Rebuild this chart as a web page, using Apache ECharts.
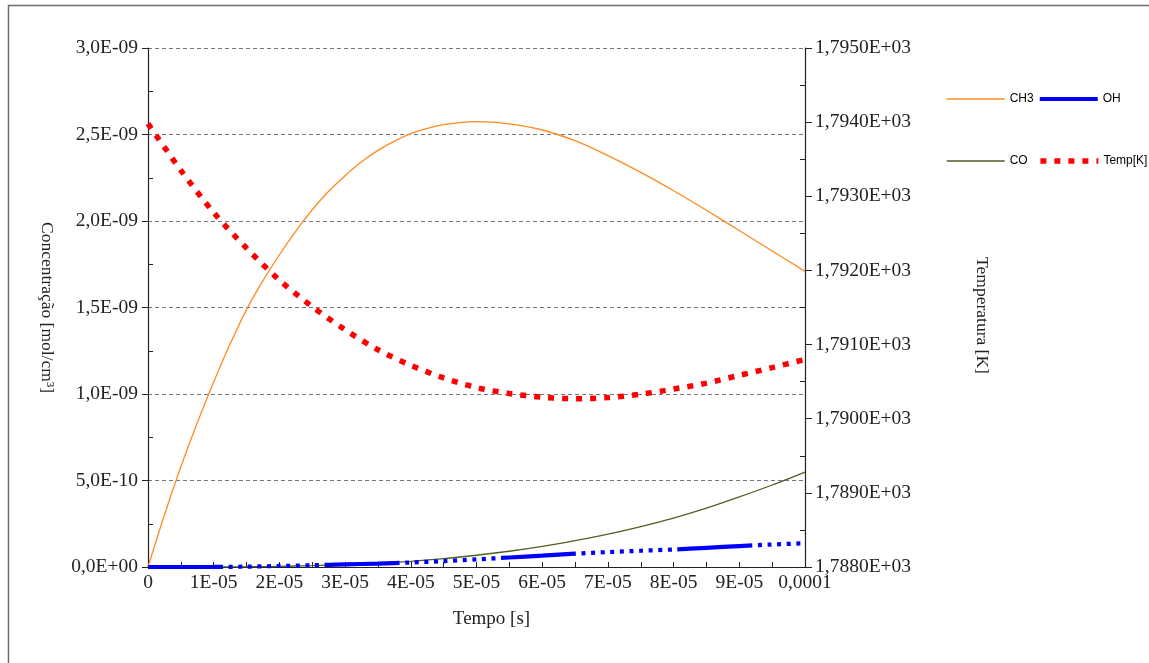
<!DOCTYPE html>
<html>
<head>
<meta charset="utf-8">
<script src="https://cdn.jsdelivr.net/npm/echarts@6/dist/echarts.min.js"></script>
<style>
html,body{margin:0;padding:0;background:#fff;}
#chart{width:1149px;height:663px;}
</style>
</head>
<body>
<div id="chart"></div>
<script>
// Tempo [s] for CH3 (finer sampling where it rises steeply)
const tempoCH3 = [0, 0.25e-5, 0.5e-5, 0.75e-5, 1e-5, 1.25e-5, 1.5e-5, 1.75e-5, 2e-5, 2.25e-5, 2.5e-5, 2.75e-5, 3e-5, 3.25e-5, 3.5e-5, 3.75e-5, 4e-5, 4.25e-5, 4.5e-5, 4.75e-5, 5e-5, 5.5e-5, 6e-5, 6.5e-5, 7e-5, 7.5e-5, 8e-5, 8.5e-5, 9e-5, 9.5e-5, 1e-4];
// Tempo [s] for the other series
const tempo = [0, 0.5e-5, 1e-5, 1.5e-5, 2e-5, 2.5e-5, 3e-5, 3.5e-5, 4e-5, 4.5e-5, 5e-5, 5.5e-5, 6e-5, 6.5e-5, 7e-5, 7.5e-5, 8e-5, 8.5e-5, 9e-5, 9.5e-5, 1e-4];
// Concentração [mol/cm3]
const ch3 = [0, 0.301e-9, 0.579e-9, 0.834e-9, 1.070e-9, 1.289e-9, 1.488e-9, 1.655e-9, 1.805e-9, 1.942e-9, 2.065e-9, 2.172e-9, 2.262e-9, 2.342e-9, 2.408e-9, 2.462e-9, 2.505e-9, 2.536e-9, 2.557e-9, 2.569e-9, 2.574e-9, 2.561e-9, 2.526e-9, 2.464e-9, 2.378e-9, 2.281e-9, 2.175e-9, 2.062e-9, 1.945e-9, 1.827e-9, 1.709e-9];
const co = [0, 0, 0.0005e-9, 0.0015e-9, 0.004e-9, 0.008e-9, 0.014e-9, 0.022e-9, 0.033e-9, 0.048e-9, 0.068e-9, 0.091e-9, 0.119e-9, 0.153e-9, 0.19e-9, 0.234e-9, 0.283e-9, 0.34e-9, 0.405e-9, 0.474e-9, 0.549e-9];
const oh = [0, 0, 0.0003e-9, 0.002e-9, 0.006e-9, 0.010e-9, 0.015e-9, 0.020e-9, 0.026e-9, 0.034e-9, 0.044e-9, 0.055e-9, 0.066e-9, 0.077e-9, 0.086e-9, 0.094e-9, 0.101e-9, 0.111e-9, 0.121e-9, 0.130e-9, 0.137e-9];
// Temperatura [K]
const temp = [1793.98, 1793.35, 1792.78, 1792.30, 1791.87, 1791.51, 1791.20, 1790.93, 1790.72, 1790.55, 1790.42, 1790.34, 1790.29, 1790.27, 1790.285, 1790.33, 1790.40, 1790.48, 1790.585, 1790.69, 1790.80];

const seriesNames = ['CH3', 'CO', 'OH', 'Temp[K]'];
const legendRow1 = ['CH3', 'OH'];
const legendRow2 = ['CO', 'Temp[K]'];

function pairs(ts, ys) { return ts.map((t, i) => [t, ys[i]]); }
function fmtE(v, digits) {
  const s = Number(v).toExponential(digits);
  const parts = s.split('e');
  const ex = parseInt(parts[1], 10);
  const sign = ex < 0 ? '-' : '+';
  return parts[0].replace('.', ',') + 'E' + sign + String(Math.abs(ex)).padStart(2, '0');
}
function fmtX(v) {
  if (Math.abs(v) < 1e-12) return '0';
  if (Math.abs(v - 1e-4) < 1e-12) return '0,0001';
  return Math.round(v / 1e-5) + 'E-05';
}

// long dash followed by a run of dots (OH line)
const ohDash = [75];
for (let i = 0; i < 10; i++) { ohDash.push(5.6, 4); }
ohDash.push(5.6);

const serif = 'Liberation Serif';
const legendCommon = {
  left: 941, width: 400, itemWidth: 58, itemHeight: 14,
  itemStyle: {color: 'rgba(0,0,0,0)', borderColor: 'rgba(0,0,0,0)', borderWidth: 0},
  lineStyle: {width: 'inherit'},
  textStyle: {fontFamily: 'Liberation Sans', fontSize: 12, color: '#000'}
};
const chart = echarts.init(document.getElementById('chart'), null, {renderer: 'canvas'});
chart.setOption({
  animation: false,
  backgroundColor: '#fff',
  graphic: [{
    type: 'rect', silent: true, z: -1,
    shape: {x: 8.5, y: 5.5, width: 1200, height: 700},
    style: {fill: 'none', stroke: '#6e6e6e', lineWidth: 1.5}
  }],
  grid: {left: 148, right: 344, top: 48, bottom: 96, containLabel: false},
  legend: [
    Object.assign({data: legendRow1, top: 88, itemGap: 4}, legendCommon),
    Object.assign({data: legendRow2, top: 150, itemGap: 10}, legendCommon)
  ],
  xAxis: {
    type: 'value', min: 0, max: 1e-4, interval: 1e-5,
    name: 'Tempo [s]', nameLocation: 'middle', nameGap: 43,
    nameTextStyle: {fontFamily: serif, fontSize: 19, color: '#222', padding: [0, 0, 0, 30]},
    axisLine: {show: true, onZero: false, lineStyle: {color: '#222', width: 1.2}},
    axisTick: {show: true, inside: true, length: 5, lineStyle: {color: '#222'}},
    minorTick: {show: true, splitNumber: 2, length: 5, lineStyle: {color: '#222'}},
    axisLabel: {formatter: fmtX, fontFamily: serif, fontSize: 19.5, color: '#222', margin: 6},
    splitLine: {show: false}
  },
  yAxis: [{
    type: 'value', position: 'left', min: 0, max: 3e-9, interval: 0.5e-9,
    name: 'Concentração [mol/cm³]', nameLocation: 'middle', nameGap: 92, nameRotate: -90,
    nameTextStyle: {fontFamily: serif, fontSize: 17.5, color: '#222'},
    axisLine: {show: true, onZero: false, lineStyle: {color: '#222', width: 1.2}},
    axisTick: {show: true, inside: false, length: 6, lineStyle: {color: '#222'}},
    minorTick: {show: true, splitNumber: 2, length: -5, lineStyle: {color: '#222'}},
    axisLabel: {formatter: v => fmtE(v, 1), fontFamily: serif, fontSize: 19.5, color: '#222', margin: 10},
    splitLine: {show: true, lineStyle: {color: '#777', type: [4, 3], width: 1}}
  }, {
    type: 'value', position: 'right', min: 1788, max: 1795, interval: 1,
    name: 'Temperatura [K]', nameLocation: 'middle', nameGap: 168, nameRotate: -90,
    nameTextStyle: {fontFamily: serif, fontSize: 17.5, color: '#222', padding: [0, 0, 0, 16]},
    axisLine: {show: true, onZero: false, lineStyle: {color: '#222', width: 1.2}},
    axisTick: {show: true, inside: false, length: 7, lineStyle: {color: '#222'}},
    minorTick: {show: true, splitNumber: 2, length: -5, lineStyle: {color: '#222'}},
    axisLabel: {formatter: v => fmtE(v, 4), fontFamily: serif, fontSize: 19.5, color: '#222', margin: 10},
    splitLine: {show: false}
  }],
  series: [
    {name: seriesNames[0], type: 'line', yAxisIndex: 0, data: pairs(tempoCH3, ch3), symbol: 'none', smooth: 0.3,
     lineStyle: {color: '#ff8a1f', width: 1.3}, itemStyle: {color: '#ff8a1f'}, z: 3},
    {name: seriesNames[1], type: 'line', yAxisIndex: 0, data: pairs(tempo, co), symbol: 'none', smooth: 0.3,
     lineStyle: {color: '#4f5f22', width: 1.3}, itemStyle: {color: '#4f5f22'}, z: 3},
    {name: seriesNames[2], type: 'line', yAxisIndex: 0, data: pairs(tempo, oh), symbol: 'none', smooth: 0.3,
     lineStyle: {color: '#0000ff', width: 4.2, type: ohDash, cap: 'butt'}, itemStyle: {color: '#0000ff'}, z: 4},
    {name: seriesNames[3], type: 'line', yAxisIndex: 1, data: pairs(tempo, temp), symbol: 'none', smooth: 0.3,
     lineStyle: {color: '#ff0000', width: 5.5, type: [6, 8], cap: 'butt'}, itemStyle: {color: '#ff0000'}, z: 5}
  ]
});
</script>
</body>
</html>
